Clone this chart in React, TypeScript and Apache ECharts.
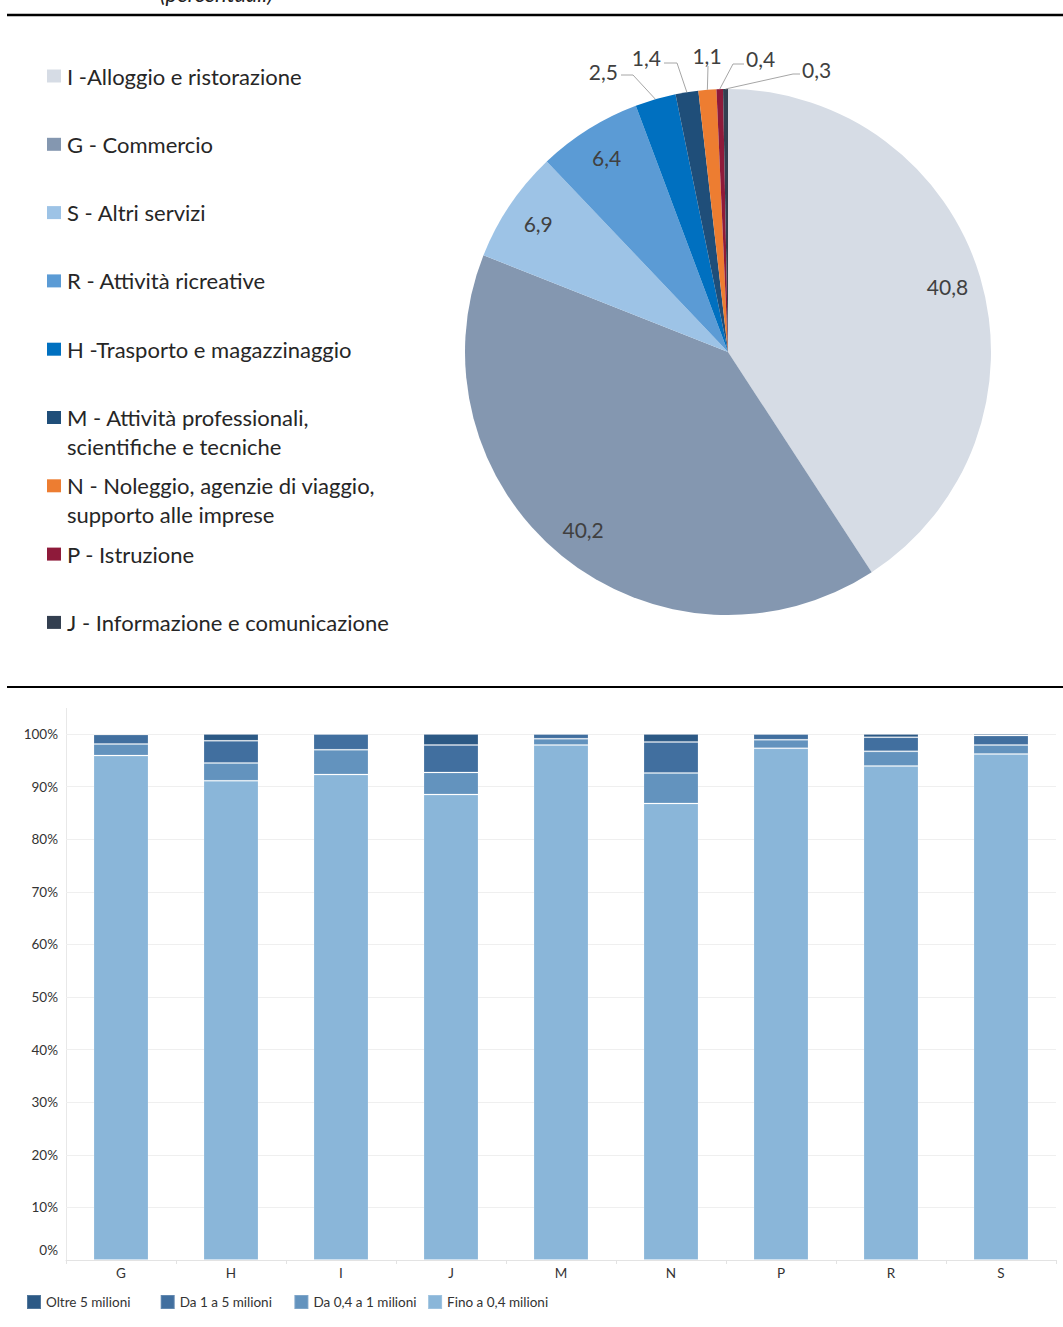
import React, { useEffect, useRef } from "react";
import * as echarts from "echarts";

// ---------- Pie data ----------
const pieNames = [
  "I -Alloggio e ristorazione",
  "G - Commercio",
  "S - Altri servizi",
  "R - Attività ricreative",
  "H -Trasporto e magazzinaggio",
  "M - Attività professionali,\nscientifiche e tecniche",
  "N - Noleggio, agenzie di viaggio,\nsupporto alle imprese",
  "P - Istruzione",
  "J - Informazione e comunicazione",
];
const pieValues = [40.8, 40.2, 6.9, 6.4, 2.5, 1.4, 1.1, 0.4, 0.3];
const pieColors = ["#d6dce5", "#8497b0", "#9dc3e6", "#5b9bd5", "#0070c0", "#1f4e79", "#ed7d31", "#8e1a3a", "#333f50"];

// ---------- Bar data ----------
const barCategories = ["G", "H", "I", "J", "M", "N", "P", "R", "S"];
const finoA04 = [95.9, 91.1, 92.3, 88.5, 97.9, 86.8, 97.3, 93.9, 96.2];
const da04a1 = [2.2, 3.4, 4.7, 4.2, 1.2, 5.8, 1.6, 2.8, 1.7];
const da1a5 = [1.8, 4.2, 3.0, 5.2, 0.9, 5.9, 1.1, 2.7, 1.8];
const oltre5 = [0.1, 1.3, 0.0, 2.1, 0.0, 1.5, 0.0, 0.6, 0.3];
const barSeriesNames = ["Fino a 0,4 milioni", "Da 0,4 a 1 milioni", "Da 1 a 5 milioni", "Oltre 5 milioni"];
const barSeriesData = [finoA04, da04a1, da1a5, oltre5];
const barColors = ["#8ab6d9", "#6393be", "#416f9f", "#2c5985"];
const barLegendOrder = ["Oltre 5 milioni", "Da 1 a 5 milioni", "Da 0,4 a 1 milioni", "Fino a 0,4 milioni"];
const yTicks = [0, 10, 20, 30, 40, 50, 60, 70, 80, 90, 100];

// ---------- layout (not data) ----------
const FONT = "Lato";
const PIE_CENTER = [728, 352];
const PIE_R = 263;
// label placement for the thin slices (by slice index)
const smallLabelLayout: Record<number, { x: number; y: number; align: string; bend: number[]; end: number[] }> = {
  4: { x: 618, y: 71, align: "right", bend: [633, 75], end: [621, 75] },
  5: { x: 661, y: 57, align: "right", bend: [677, 63], end: [664, 63] },
  6: { x: 707, y: 55, align: "center", bend: [708, 66], end: [708, 66] },
  7: { x: 746, y: 58, align: "left", bend: [733, 64], end: [744, 64] },
  8: { x: 802, y: 69, align: "left", bend: [793, 74], end: [800, 74] },
};

const fmt = (v: number) => v.toFixed(1).replace(".", ",");

function buildOption() {
  const graphics: any[] = [
    {
      type: "text",
      x: 160,
      y: 4,
      style: { text: "(percentuali)", fontSize: 22, fontStyle: "italic", fontFamily: FONT, fill: "#222", verticalAlign: "bottom" },
    },
    { type: "line", shape: { x1: 7, y1: 15, x2: 1063, y2: 15 }, style: { stroke: "#000", lineWidth: 2.5 } },
    { type: "line", shape: { x1: 7, y1: 687, x2: 1063, y2: 687 }, style: { stroke: "#000", lineWidth: 2 } },
    { type: "line", shape: { x1: 66.5, y1: 708, x2: 66.5, y2: 1260 }, style: { stroke: "#e8e8e8", lineWidth: 1 } },
  ];
  const legendTop = 76;
  const legendStep = 68.3;
  pieNames.forEach((name, i) => {
    const cy = legendTop + i * legendStep;
    graphics.push({ type: "rect", shape: { x: 47, y: cy - 6.5, width: 14, height: 13 }, style: { fill: pieColors[i] } });
    graphics.push({
      type: "text",
      x: 67,
      y: cy - 14.5,
      style: { text: name, fontSize: 22, fontFamily: FONT, fill: "#262626", lineHeight: 29, verticalAlign: "top", align: "left" },
    });
  });

  const legends = barLegendOrder.map((name, i) => ({
    data: [name],
    left: 26 + i * 133.7,
    top: 1294,
    padding: 0,
    itemWidth: 14,
    itemHeight: 14,
    icon: "rect",
    selectedMode: false,
    textStyle: { fontSize: 13.5, color: "#333", fontFamily: FONT },
  }));

  return {
    animation: false,
    textStyle: { fontFamily: FONT },
    graphic: graphics,
    grid: { left: 66, right: 7, top: 734, bottom: 67, containLabel: false },
    legend: legends,
    xAxis: {
      type: "category",
      data: barCategories,
      axisLine: { lineStyle: { color: "#e3e3e3" } },
      axisTick: { show: true, length: 4, lineStyle: { color: "#e3e3e3" } },
      axisLabel: { fontSize: 13.5, color: "#333", margin: 6, fontFamily: FONT },
    },
    yAxis: {
      type: "value",
      min: 0,
      max: 100,
      interval: 10,
      axisLine: { show: false },
      axisTick: { show: false },
      splitLine: { lineStyle: { color: "#efefef" } },
      axisLabel: {
        margin: 8,
        fontSize: 13.5,
        color: "#333",
        fontFamily: FONT,
        formatter: (v: number) => (v === yTicks[0] ? "{z|" + v + "%}" : v + "%"),
        rich: { z: { fontSize: 13.5, color: "#333", fontFamily: FONT, padding: [0, 0, 20, 0] } },
      },
    },
    series: [
      ...barSeriesNames.map((name, i) => ({
        type: "bar",
        name,
        stack: "total",
        barWidth: "50%",
        data: barSeriesData[i],
        itemStyle: { color: barColors[i], borderColor: "rgba(255,255,255,0.18)", borderWidth: 1 },
        silent: true,
      })),
      {
        type: "pie",
        center: PIE_CENTER,
        radius: [0, PIE_R],
        startAngle: 90,
        clockwise: true,
        silent: true,
        z: 1,
        label: { show: false },
        labelLine: { show: false },
        data: pieNames.map((n, i) => ({ name: n, value: pieValues[i], itemStyle: { color: pieColors[i] } })),
      },
      {
        type: "pie",
        center: PIE_CENTER,
        radius: [189, PIE_R],
        startAngle: 90,
        clockwise: true,
        silent: true,
        z: 2,
        avoidLabelOverlap: false,
        itemStyle: { color: "rgba(0,0,0,0)" },
        emphasis: { disabled: true },
        label: {
          show: true,
          formatter: (p: any) => fmt(p.value),
          fontSize: 21,
          color: "#404040",
          fontFamily: FONT,
        },
        labelLine: { show: true, length: 10, length2: 8, lineStyle: { color: "#a6a6a6", width: 1 } },
        labelLayout: (params: any) => {
          const cfg = smallLabelLayout[params.dataIndex];
          if (!cfg) return {};
          const pts = params.labelLinePoints;
          const p0 = pts && pts[0] ? pts[0] : cfg.bend;
          return {
            x: cfg.x,
            y: cfg.y,
            align: cfg.align,
            verticalAlign: "middle",
            labelLinePoints: [p0, cfg.bend, cfg.end],
          };
        },
        data: pieNames.map((n, i) => ({
          name: n,
          value: pieValues[i],
          label: { position: pieValues[i] > 5 ? "inside" : "outside" },
          labelLine: { show: !(pieValues[i] > 5) },
        })),
      },
    ],
  };
}

export default function App() {
  const ref = useRef<HTMLDivElement>(null);
  useEffect(() => {
    const chart = echarts.init(ref.current!, null, { renderer: "svg" });
    chart.setOption(buildOption() as any);
    return () => chart.dispose();
  }, []);
  return <div ref={ref} style={{ position: "absolute", left: 0, top: 0, width: 1063, height: 1327 }} />;
}
